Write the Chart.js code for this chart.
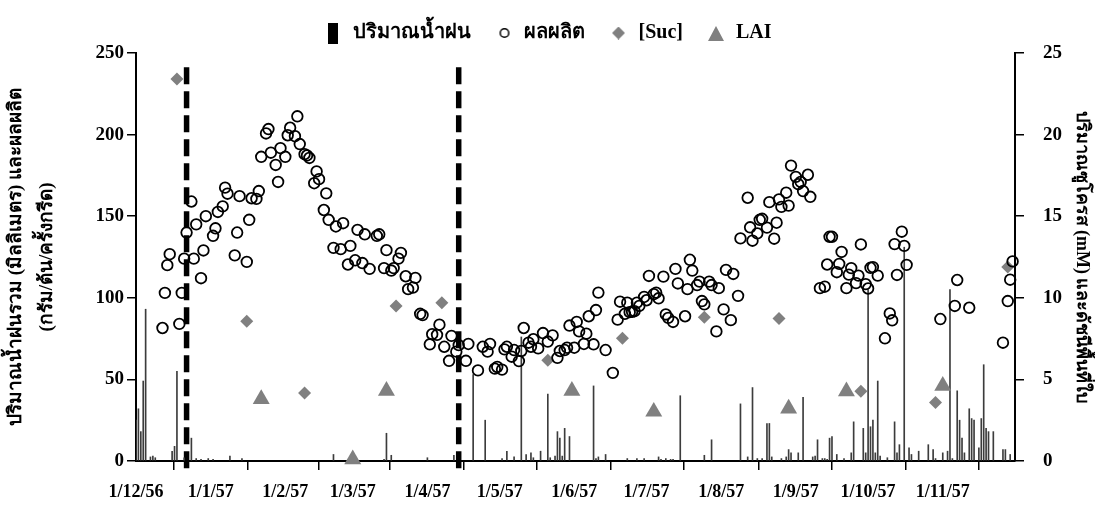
<!DOCTYPE html>
<html lang="th">
<head>
<meta charset="utf-8">
<title>ปริมาณน้ำฝน ผลผลิต [Suc] LAI</title>
<script src="https://cdn.jsdelivr.net/npm/chart.js@4.4.0/dist/chart.umd.min.js"></script>
<style>
  html, body { margin: 0; padding: 0; background: #fff; }
  #wrap { width: 1095px; height: 511px; }
</style>
</head>
<body>
<div id="wrap"><canvas id="rainChart" width="1095" height="511"></canvas></div>
<script>
'use strict'

// x values are days counted from 1/12/56 (1 Dec 2013)
var tickDays = [0, 31, 62, 90, 121, 151, 182, 212, 243, 274, 304, 335, 365];
var tickLabels = ['1/12/56', '1/1/57', '1/2/57', '1/3/57', '1/4/57', '1/5/57', '1/6/57',
  '1/7/57', '1/8/57', '1/9/57', '1/10/57', '1/11/57', ''];

// vertical dashed markers
var markDays = [21, 134];

// daily rainfall (mm)
var rainDays = [0, 1, 2, 3, 4, 6, 7, 8, 15, 16, 17, 20, 23, 25, 27, 30, 32, 39, 44, 82,
  103, 104, 106, 121, 132, 140, 145, 152, 154, 157, 160, 162, 164, 165, 168, 171, 172, 174,
  175, 176, 177, 178, 180, 190, 191, 192, 195, 204, 208, 211, 217, 218, 220, 222, 223, 226,
  236, 239, 251, 254, 256, 258, 260, 262, 263, 264, 268, 270, 271, 272, 275, 277, 281, 282,
  283, 285, 286, 287, 288, 289, 291, 294, 297, 298, 302, 303, 304, 305, 306, 307, 308, 309,
  312, 315, 316, 317, 319, 321, 322, 325, 329, 331, 332, 335, 337, 338, 339, 341, 342, 343,
  344, 346, 347, 348, 350, 351, 352, 353, 354, 356, 360, 361, 363];
var rainMm = [25, 32, 18, 49, 93, 2.5, 3, 2, 6, 9, 55, 2, 14, 1.5, 1, 1.5, 1, 3, 1.5, 4,
  1, 17, 3.5, 2, 3.5, 53, 25, 1.5, 6, 2.5, 76, 4, 5, 2, 6, 41, 2, 3,
  18, 14, 3, 20, 15, 46, 1.5, 2.5, 4, 1.5, 1.5, 1.5, 2.5, 1, 1.5, 1, 1, 40,
  3.5, 13, 35, 2.5, 45, 1.5, 1.5, 23, 23, 2.5, 1.5, 2.5, 7, 5, 5, 39, 2.5, 3,
  13, 1.5, 1.5, 1, 14, 15, 4, 1.5, 5, 24, 20, 5, 105, 21, 25, 5, 49, 3,
  2, 24, 5, 10, 131, 8, 4, 6, 10, 7, 1.5, 5, 6, 105, 1.5, 43, 25, 14,
  5, 32, 26, 25, 8, 26, 59, 20, 18, 18, 7, 7, 4];

// yield (g/tree/tapping)
var yieldDays = [11, 12, 13, 14, 18, 19, 20, 21, 23, 24, 25, 27, 28, 29, 32, 33, 34, 36, 37, 38,
  41, 42, 43, 46, 47, 48, 50, 51, 52, 54, 55, 56, 58, 59, 60, 62, 63, 64, 66, 67,
  68, 70, 71, 72, 74, 75, 76, 78, 79, 80, 82, 83, 85, 86, 88, 89, 91, 92, 94, 95,
  97, 100, 101, 103, 104, 106, 107, 109, 110, 112, 113, 115, 116, 118, 119, 122, 123, 125, 126, 128,
  130, 131, 133, 134, 137, 138, 142, 144, 146, 147, 149, 150, 152, 153, 154, 156, 157, 159, 160, 161,
  163, 164, 165, 167, 169, 171, 173, 175, 176, 178, 179, 180, 182, 183, 184, 186, 187, 188, 190, 191,
  192, 195, 198, 200, 201, 203, 204, 205, 206, 207, 208, 209, 211, 212, 213, 215, 216, 217, 219, 220,
  221, 223, 224, 225, 228, 229, 230, 231, 233, 234, 235, 236, 238, 239, 241, 242, 244, 245, 247, 248,
  250, 251, 254, 255, 256, 258, 259, 260, 262, 263, 265, 266, 267, 268, 270, 271, 272, 274, 275, 276,
  277, 279, 280, 284, 286, 287, 288, 289, 291, 292, 293, 295, 296, 297, 299, 300, 301, 303, 304, 305,
  306, 308, 311, 313, 314, 315, 316, 318, 319, 320, 334, 340, 341, 346, 360, 362, 363, 364];
var yieldVals = [81.5, 103, 120, 126.7, 84, 103, 124, 140, 159, 124, 145, 112, 129, 150, 138, 142.6, 152.6, 156, 167.5, 163.8,
  126, 140, 162.3, 122, 147.8, 161, 160.6, 165.4, 186.4, 200.7, 203.4, 188.9, 181.4, 171, 191.7, 186.4, 199.6, 204.2, 199, 211.2,
  194.2, 188, 187.2, 185.7, 170.2, 177.4, 172.7, 153.8, 164, 147.8, 130.6, 143.7, 129.8, 145.7, 120.4, 131.8, 123, 141.6, 121.3, 138.9,
  117.7, 138, 138.9, 118.2, 129.2, 116.7, 118.2, 124, 127.5, 113.2, 105.3, 106.3, 112.2, 90.2, 89.4, 71.5, 77.7, 77.3, 83.5, 70,
  61.4, 76.7, 67, 71, 61.4, 71.7, 55.5, 70, 67, 71.7, 56.6, 57.6, 56, 68.4, 70, 63.9, 68, 61.2, 67.4, 81.5,
  72.5, 70, 74.6, 69, 78.4, 73.2, 77, 63.2, 67.4, 68, 69.4, 83, 69.4, 85.2, 79.4, 71.7, 78, 88.7, 71.5, 92.5,
  103.2, 68, 54, 86.6, 97.6, 90.2, 97, 91.2, 91.4, 91.8, 97, 95, 100.5, 98.5, 113.4, 102.2, 103.2, 99.7, 113, 89.8,
  87.7, 85.2, 117.7, 108.8, 88.7, 105.3, 123.3, 116.7, 107.8, 109.9, 98, 96, 109.9, 107.8, 79.4, 105.9, 92.9, 117.1, 86.3, 114.6,
  101.2, 136.4, 161.3, 143.2, 135, 139.5, 147.8, 148.4, 143, 158.6, 136.2, 146, 160.3, 155.7, 164.4, 156.5, 181, 174.1, 169.6, 171,
  165.4, 175.4, 161.9, 105.9, 106.8, 120.4, 137.4, 137.4, 115.7, 120.8, 128.1, 105.9, 114.2, 118.2, 109, 113.6, 132.7, 108.4, 105.7, 118.4,
  118.8, 113.6, 75.2, 90.4, 86.2, 132.9, 114, 140.5, 131.8, 120.2, 87, 95, 110.9, 93.9, 72.5, 98, 111.1, 122.3];

// sucrose (mM), right axis
var sucDays = [17, 46, 70, 108, 127, 171, 202, 236, 267, 301, 332, 362];
var sucVals = [23.4, 8.56, 4.17, 9.5, 9.7, 6.18, 7.52, 8.81, 8.73, 4.27, 3.59, 11.88];

// leaf area index, right axis
var laiDays = [52, 90, 104, 181, 215, 271, 295, 335];
var laiVals = [3.79, 0.1, 4.3, 4.3, 3.02, 3.21, 4.27, 4.61];

var GREY = '#808080';

function pairs(xs, ys) {
  return xs.map(function(x, i) { return {x: x, y: ys[i]}; });
}

// small canvases used as legend symbols
function symbol(w, h, draw) {
  var c = document.createElement('canvas');
  c.width = w;
  c.height = h;
  draw(c.getContext('2d'), w, h);
  return c;
}

var rainSym = symbol(10, 21, function(g, w, h) {
  g.fillStyle = '#000';
  g.fillRect(0, 0, w, h);
});
var yieldSym = symbol(12, 12, function(g) {
  g.strokeStyle = '#000';
  g.lineWidth = 1.5;
  g.beginPath();
  g.arc(6, 6, 4.3, 0, Math.PI * 2);
  g.stroke();
});
var sucSym = symbol(13, 13, function(g) {
  g.fillStyle = GREY;
  g.beginPath();
  g.moveTo(6.5, 0); g.lineTo(13, 6.5); g.lineTo(6.5, 13); g.lineTo(0, 6.5);
  g.closePath();
  g.fill();
});
var laiSym = symbol(16, 16, function(g) {
  g.fillStyle = GREY;
  g.beginPath();
  g.moveTo(8, 1); g.lineTo(16, 16); g.lineTo(0, 16);
  g.closePath();
  g.fill();
});

Chart.defaults.font.family = "'Liberation Serif', 'Times New Roman', serif";
Chart.defaults.font.weight = 'bold';
Chart.defaults.color = '#000';

var datasets = [{
  type: 'scatter',
  label: 'ผลผลิต',
  data: pairs(yieldDays, yieldVals),
  yAxisID: 'y',
  pointStyle: 'circle',
  pointRadius: 5.3,
  pointBorderWidth: 1.8,
  pointBorderColor: '#000',
  pointBackgroundColor: 'rgba(0,0,0,0)',
  clip: false
}, {
  type: 'scatter',
  label: '[Suc]',
  data: pairs(sucDays, sucVals),
  yAxisID: 'y1',
  pointStyle: 'rectRot',
  pointRadius: 6.5,
  pointBorderWidth: 0,
  pointBackgroundColor: GREY,
  clip: false
}, {
  type: 'scatter',
  label: 'LAI',
  data: pairs(laiDays, laiVals),
  yAxisID: 'y1',
  pointStyle: 'triangle',
  pointRadius: 9.8,
  pointBorderWidth: 0,
  pointBackgroundColor: GREY,
  clip: false
}, {
  type: 'bar',
  label: 'ปริมาณน้ำฝน',
  data: pairs(rainDays, rainMm),
  yAxisID: 'y',
  backgroundColor: '#3c3c3c',
  barThickness: 1,
  grouped: false
}];

markDays.forEach(function(d) {
  datasets.push({
    type: 'line',
    label: 'mark',
    data: [{x: d, y: -4.5}, {x: d, y: 244}],
    yAxisID: 'y',
    borderColor: '#000',
    borderWidth: 5.5,
    borderDash: [17, 7],
    pointRadius: 0,
    clip: false
  });
});

var axisGrid = { drawOnChartArea: false, drawTicks: true, tickLength: 9, color: '#000', lineWidth: 1.5 };
var axisBorder = { color: '#000', width: 2 };

var rainChart = new Chart(document.getElementById('rainChart'), {
  type: 'scatter',
  data: { datasets: datasets },
  options: {
    responsive: false,
    animation: false,
    layout: { padding: 0 },
    plugins: {
      tooltip: { enabled: false },
      legend: {
        position: 'top',
        maxHeight: 59,
        labels: {
          usePointStyle: true,
          pointStyleWidth: 20,
          padding: 23,
          font: { size: 20, weight: 'bold' },
          color: '#000',
          generateLabels: function() {
            var syms = [rainSym, yieldSym, sucSym, laiSym];
            var names = ['ปริมาณน้ำฝน', 'ผลผลิต', '[Suc]', 'LAI'];
            return names.map(function(n, i) {
              return { text: n, pointStyle: syms[i], fillStyle: '#000', strokeStyle: '#000',
                lineWidth: 0, hidden: false, fontColor: '#000', datasetIndex: i };
            });
          }
        }
      }
    },
    scales: {
      x: {
        type: 'linear',
        offset: false,
        min: 0,
        max: 365,
        afterBuildTicks: function(scale) {
          scale.ticks = tickDays.map(function(d) { return {value: d}; });
        },
        afterFit: function(scale) { scale.height = 50; },
        ticks: {
          autoSkip: false,
          maxRotation: 0,
          padding: 12,
          font: { size: 18, weight: 'bold' },
          callback: function(v) {
            var i = tickDays.indexOf(v);
            return i < 0 ? '' : tickLabels[i];
          }
        },
        grid: axisGrid,
        border: axisBorder
      },
      y: {
        position: 'left',
        min: 0,
        max: 250,
        afterFit: function(scale) { scale.width = 136; },
        ticks: { stepSize: 50, padding: 3, font: { size: 19, weight: 'bold' } },
        title: {
          display: true,
          text: ['ปริมาณน้ำฝนรวม (มิลลิเมตร) และผลผลิต', '(กรัม/ต้น/ครั้งกรีด)'],
          font: { size: 19, weight: 'bold', lineHeight: 1.6 },
          padding: { top: 1, bottom: 0 }
        },
        grid: axisGrid,
        border: axisBorder
      },
      y1: {
        position: 'right',
        min: 0,
        max: 25,
        afterFit: function(scale) { scale.width = 80; },
        ticks: { stepSize: 5, padding: 19, font: { size: 19, weight: 'bold' } },
        title: {
          display: true,
          text: 'ปริมาณซูโครส (mM) และดัชนีพื้นที่ใบ',
          font: { size: 18, weight: 'bold', lineHeight: 1.2 },
          padding: { top: 3, bottom: 0 }
        },
        grid: axisGrid,
        border: axisBorder
      }
    }
  }
});
</script>
</body>
</html>
